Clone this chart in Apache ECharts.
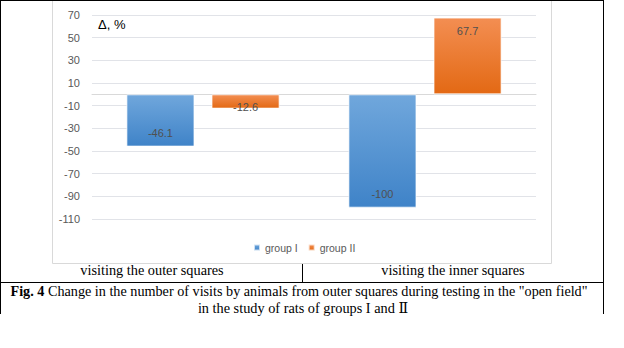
<!DOCTYPE html>
<html>
<head>
<meta charset="utf-8">
<script src="https://cdn.jsdelivr.net/npm/echarts@6/dist/echarts.min.js"></script>
<style>
  html, body { margin: 0; padding: 0; background: #fff; }
  #chart { width: 624px; height: 348px; }
</style>
</head>
<body>
<div id="chart"></div>
<script>
// Categories, series and axis settings for the figure
const categories = ['visiting the outer squares', 'visiting the inner squares'];
const groupNames = ['group I', 'group II'];
const groupI = [-46.1, -100];
const groupII = [-12.6, 67.7];
const yTicks = [-110, -90, -70, -50, -30, -10, 10, 30, 50, 70];
const axisUnit = 'Δ, %';
const captionBold = 'Fig. 4';
const captionLine1 = ' Change in the number of visits by animals from outer squares during testing in the "open field"';
const captionLine2 = 'in the study of rats of groups I and Ⅱ';

const chart = echarts.init(document.getElementById('chart'), null, { renderer: 'svg' });

function grad(top, bottom) {
  return new echarts.graphic.LinearGradient(0, 0, 0, 1, [
    { offset: 0, color: top }, { offset: 1, color: bottom }
  ]);
}

// Label sits just inside the bar end; short bars get it centred on the end
function barItems(values) {
  return values.map(v => {
    let label;
    if (Math.abs(v) < 20) {
      label = { position: v < 0 ? 'bottom' : 'top', distance: -7 };
    } else {
      label = { position: v < 0 ? 'insideBottom' : 'insideTop', distance: 8 };
    }
    return { value: v, label };
  });
}

const sans = 'Liberation Sans, Arial, sans-serif';
const serif = 'Liberation Serif, Times New Roman, DejaVu Serif, serif';

const labelStyle = {
  show: true,
  color: '#505050',
  fontSize: 11,
  fontFamily: sans
};

chart.setOption({
  backgroundColor: '#fff',
  animation: false,
  legend: {
    data: groupNames,
    top: 237,
    left: 248,
    icon: 'rect',
    itemWidth: 6,
    itemHeight: 6,
    itemGap: 10,
    textStyle: { color: '#595959', fontSize: 10.5, fontFamily: sans }
  },
  grid: { left: 92, right: 88, top: 15, bottom: 129, containLabel: false },
  xAxis: {
    type: 'category',
    data: categories,
    axisLine: { show: true, onZero: true, lineStyle: { color: '#d9d9d9' } },
    axisTick: { show: false },
    axisLabel: { show: false }
  },
  yAxis: {
    type: 'value',
    min: yTicks[0],
    max: yTicks[yTicks.length - 1],
    interval: yTicks[1] - yTicks[0],
    axisLine: { show: false },
    axisTick: { show: false },
    splitLine: { lineStyle: { color: '#e1e3e8' } },
    axisLabel: { color: '#595959', fontSize: 11, margin: 12, fontFamily: sans }
  },
  series: [
    {
      name: groupNames[0],
      type: 'bar',
      data: barItems(groupI),
      barGap: '25%',
      barCategoryGap: '31%',
      itemStyle: {
        color: grad('#70a7dc', '#3f83c8'),
        borderColor: 'rgba(255,255,255,0.7)',
        borderWidth: 1
      },
      label: labelStyle
    },
    {
      name: groupNames[1],
      type: 'bar',
      data: barItems(groupII),
      barGap: '25%',
      barCategoryGap: '31%',
      itemStyle: {
        color: grad('#f38e52', '#e36914'),
        borderColor: 'rgba(255,255,255,0.7)',
        borderWidth: 1
      },
      label: labelStyle
    }
  ],
  color: ['#5b9bd5', '#ed7d31'],
  graphic: [
    // chart area frame
    { type: 'rect', shape: { x: 52.5, y: -5, width: 499, height: 268.5 },
      style: { fill: 'none', stroke: '#d9d9d9', lineWidth: 1 }, silent: true },
    // unit caption
    { type: 'text', left: 98, top: 18,
      style: { text: axisUnit, fill: '#000', fontSize: 13, fontFamily: sans } },
    // table borders
    { type: 'line', shape: { x1: 0, y1: 0.5, x2: 604, y2: 0.5 }, style: { stroke: '#000', lineWidth: 1 } },
    { type: 'line', shape: { x1: 0.5, y1: 0, x2: 0.5, y2: 314 }, style: { stroke: '#000', lineWidth: 1 } },
    { type: 'line', shape: { x1: 603.5, y1: 0, x2: 603.5, y2: 314 }, style: { stroke: '#000', lineWidth: 1 } },
    { type: 'line', shape: { x1: 0, y1: 282.5, x2: 604, y2: 282.5 }, style: { stroke: '#000', lineWidth: 1 } },
    { type: 'line', shape: { x1: 302.5, y1: 264, x2: 302.5, y2: 283 }, style: { stroke: '#000', lineWidth: 1 } },
    // category captions under the chart
    { type: 'text', x: 152, y: 263,
      style: { text: categories[0], fill: '#000', fontSize: 14.3, fontFamily: serif, textAlign: 'center' } },
    { type: 'text', x: 453, y: 263,
      style: { text: categories[1], fill: '#000', fontSize: 14.3, fontFamily: serif, textAlign: 'center' } },
    // figure caption
    { type: 'text', x: 299, y: 284,
      style: {
        text: '{b|' + captionBold + '}' + captionLine1,
        fill: '#000', fontSize: 14.2, fontFamily: serif, textAlign: 'center',
        rich: { b: { fontWeight: 'bold', fontSize: 14.2, fontFamily: serif } }
      } },
    { type: 'text', x: 303, y: 301,
      style: { text: captionLine2, fill: '#000', fontSize: 14.3, fontFamily: serif, textAlign: 'center' } }
  ]
});
</script>
</body>
</html>
